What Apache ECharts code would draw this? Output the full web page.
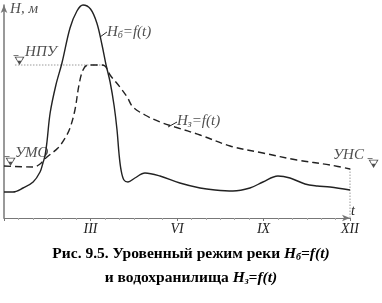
<!DOCTYPE html>
<html><head><meta charset="utf-8">
<script src="https://cdn.jsdelivr.net/npm/echarts@6/dist/echarts.min.js"></script>
<style>html,body{margin:0;padding:0;background:#fff}#c{width:382px;height:303px}</style>
</head><body><div id="c"></div>
<script>
// x: months (0 = start of year, 12 = end); y: water level, arbitrary units
var monthTicks = {3:'III', 6:'VI', 9:'IX', 12:'XII'};
var riverLevel = [ // Hб = f(t)
 [0,26],[0.31,26],[0.66,30],[1.01,36],[1.25,46],[1.35,55],[1.42,62],[1.49,76],[1.6,105],[1.8,133],
 [2.01,155],[2.29,190],[2.53,207],[2.74,213],[3.0,209],[3.22,195],[3.4,173],[3.54,153],[3.68,136],
 [3.82,112],[3.92,88],[3.99,64],[4.06,48],[4.16,38],[4.3,36],[4.54,40],[4.89,45],[5.41,42],[6.1,35],
 [6.8,30],[7.32,28],[7.94,27],[8.53,30],[8.98,36],[9.5,42],[9.92,40],[10.44,34],[10.86,32],[11.31,31],[12,28]
];
var reservoirLevel = [ // Hз = f(t)
 [0,52],[1.01,51],[1.25,54],[1.49,61],[1.87,70],[2.12,80],[2.29,90],[2.46,108],[2.6,133],[2.74,148],
 [2.91,153],[3.33,153],[3.5,152],[3.68,143],[4.02,131],[4.27,121],[4.47,111],[4.89,103],[5.41,96],
 [5.93,91],[6.8,83],[7.84,72],[8.98,65],[10.16,58],[11.31,53],[12,49]
];
var NPU = 153, UMO = 52, UNS = 49;

var serif = 'Liberation Serif';
var tri = 'path://M0,0 L10,0 L5,8 Z M1.6,0.9 L3.2,4 L6.8,4 L8.4,0.9 Z M-1,-1.6 L4,-1.6 L4,-0.9 L-1,-0.9 Z';
var curveColor = '#222', guideColor = '#9a9a9a';
function guide(pts){
  return {type:'line', data:pts, symbol:'none', clip:false, silent:true,
    lineStyle:{color:guideColor, width:1, type:[1.5,1.5]}, z:1};
}
var rich = {
  i:{fontFamily:serif, fontStyle:'italic', fontSize:15, color:'#222', lineHeight:18},
  s:{fontFamily:serif, fontStyle:'italic', fontSize:10, color:'#222', lineHeight:12, padding:[6,0,0,0]}
};
function note(x, y, text){
  return {value:[x,y], label:{show:true, position:'right', distance:0, formatter:text, rich:rich,
    fontFamily:serif, fontStyle:'italic', fontSize:15, color:'#222'}};
}
function mark(x, y){
  return {value:[x,y], symbol:tri, symbolSize:[11,10], itemStyle:{color:'#222'}};
}
var chart = echarts.init(document.getElementById('c'));
chart.setOption({
  animation:false,
  title:{
    text:'Рис. 9.5. Уровенный режим реки {i|H}{s|б}{i|=f(t)}\nи водохранилища {i|H}{s|з}{i|=f(t)}',
    left:'center', top:242, padding:0,
    textStyle:{fontFamily:serif, fontWeight:'bold', fontSize:15.5, color:'#000', lineHeight:24,
      rich:{
        i:{fontFamily:serif, fontWeight:'bold', fontStyle:'italic', fontSize:15.5, color:'#000', lineHeight:24},
        s:{fontFamily:serif, fontWeight:'bold', fontStyle:'italic', fontSize:10, color:'#000', lineHeight:14, padding:[6,0,0,0]}
      }}
  },
  grid:{left:4, right:32, top:5, bottom:85},
  xAxis:{type:'value', min:0, max:12, interval:3,
    name:'t', nameLocation:'end', nameGap:1,
    nameTextStyle:{fontFamily:serif, fontStyle:'italic', fontSize:14, color:'#222', verticalAlign:'bottom', padding:[0,0,0,0]},
    axisLine:{lineStyle:{color:'#777', width:1}, symbol:['none','arrow'], symbolSize:[5,8]},
    axisTick:{show:true, length:3, inside:false, lineStyle:{color:'#777'}},
    minorTick:{show:true, splitNumber:6, length:2, lineStyle:{color:'#aaa'}},
    splitLine:{show:false},
    axisLabel:{margin:4, fontFamily:serif, fontStyle:'italic', fontSize:14, color:'#222',
      formatter:function(v){return monthTicks[v]||'';}}
  },
  yAxis:{type:'value', min:0, max:213,
    axisLine:{show:true, lineStyle:{color:'#777', width:1.5}, symbol:['none','arrow'], symbolSize:[5,8]},
    axisTick:{show:false}, axisLabel:{show:false}, splitLine:{show:false}
  },
  series:[
    guide([[0.38,NPU],[3.5,NPU]]),
    guide([[12,0],[12,UNS]]),
    guide([[12,UNS],[12.93,UNS]]),
    {type:'line', name:'Hб', data:riverLevel, symbol:'none', smooth:0.35, clip:false,
      lineStyle:{color:curveColor, width:1.4}, z:3},
    {type:'line', name:'Hз', data:reservoirLevel, symbol:'none', smooth:0.35, clip:false,
      lineStyle:{color:curveColor, width:1.4, type:[7,4]}, z:3},
    {type:'line', data:[[3.33,181],[3.57,186]], symbol:'none', clip:false, lineStyle:{color:curveColor, width:1}},
    {type:'line', data:[[5.69,91],[6.0,96]], symbol:'none', clip:false, lineStyle:{color:curveColor, width:1}},
    {type:'scatter', clip:false, symbolSize:0, silent:true, z:5,
      data:[
        note(0.21, 209, 'H, м'),
        note(0.73, 166, 'НПУ'),
        note(0.38, 65, 'УМО'),
        note(11.41, 63, 'УНС'),
        note(3.57, 186, '{i|H}{s|б}{i|=f(t)}'),
        note(6.0, 97, '{i|H}{s|з}{i|=f(t)}'),
        mark(0.52, 158), mark(0.21, 57), mark(12.8, 55)
      ]}
  ]
});
</script></body></html>
